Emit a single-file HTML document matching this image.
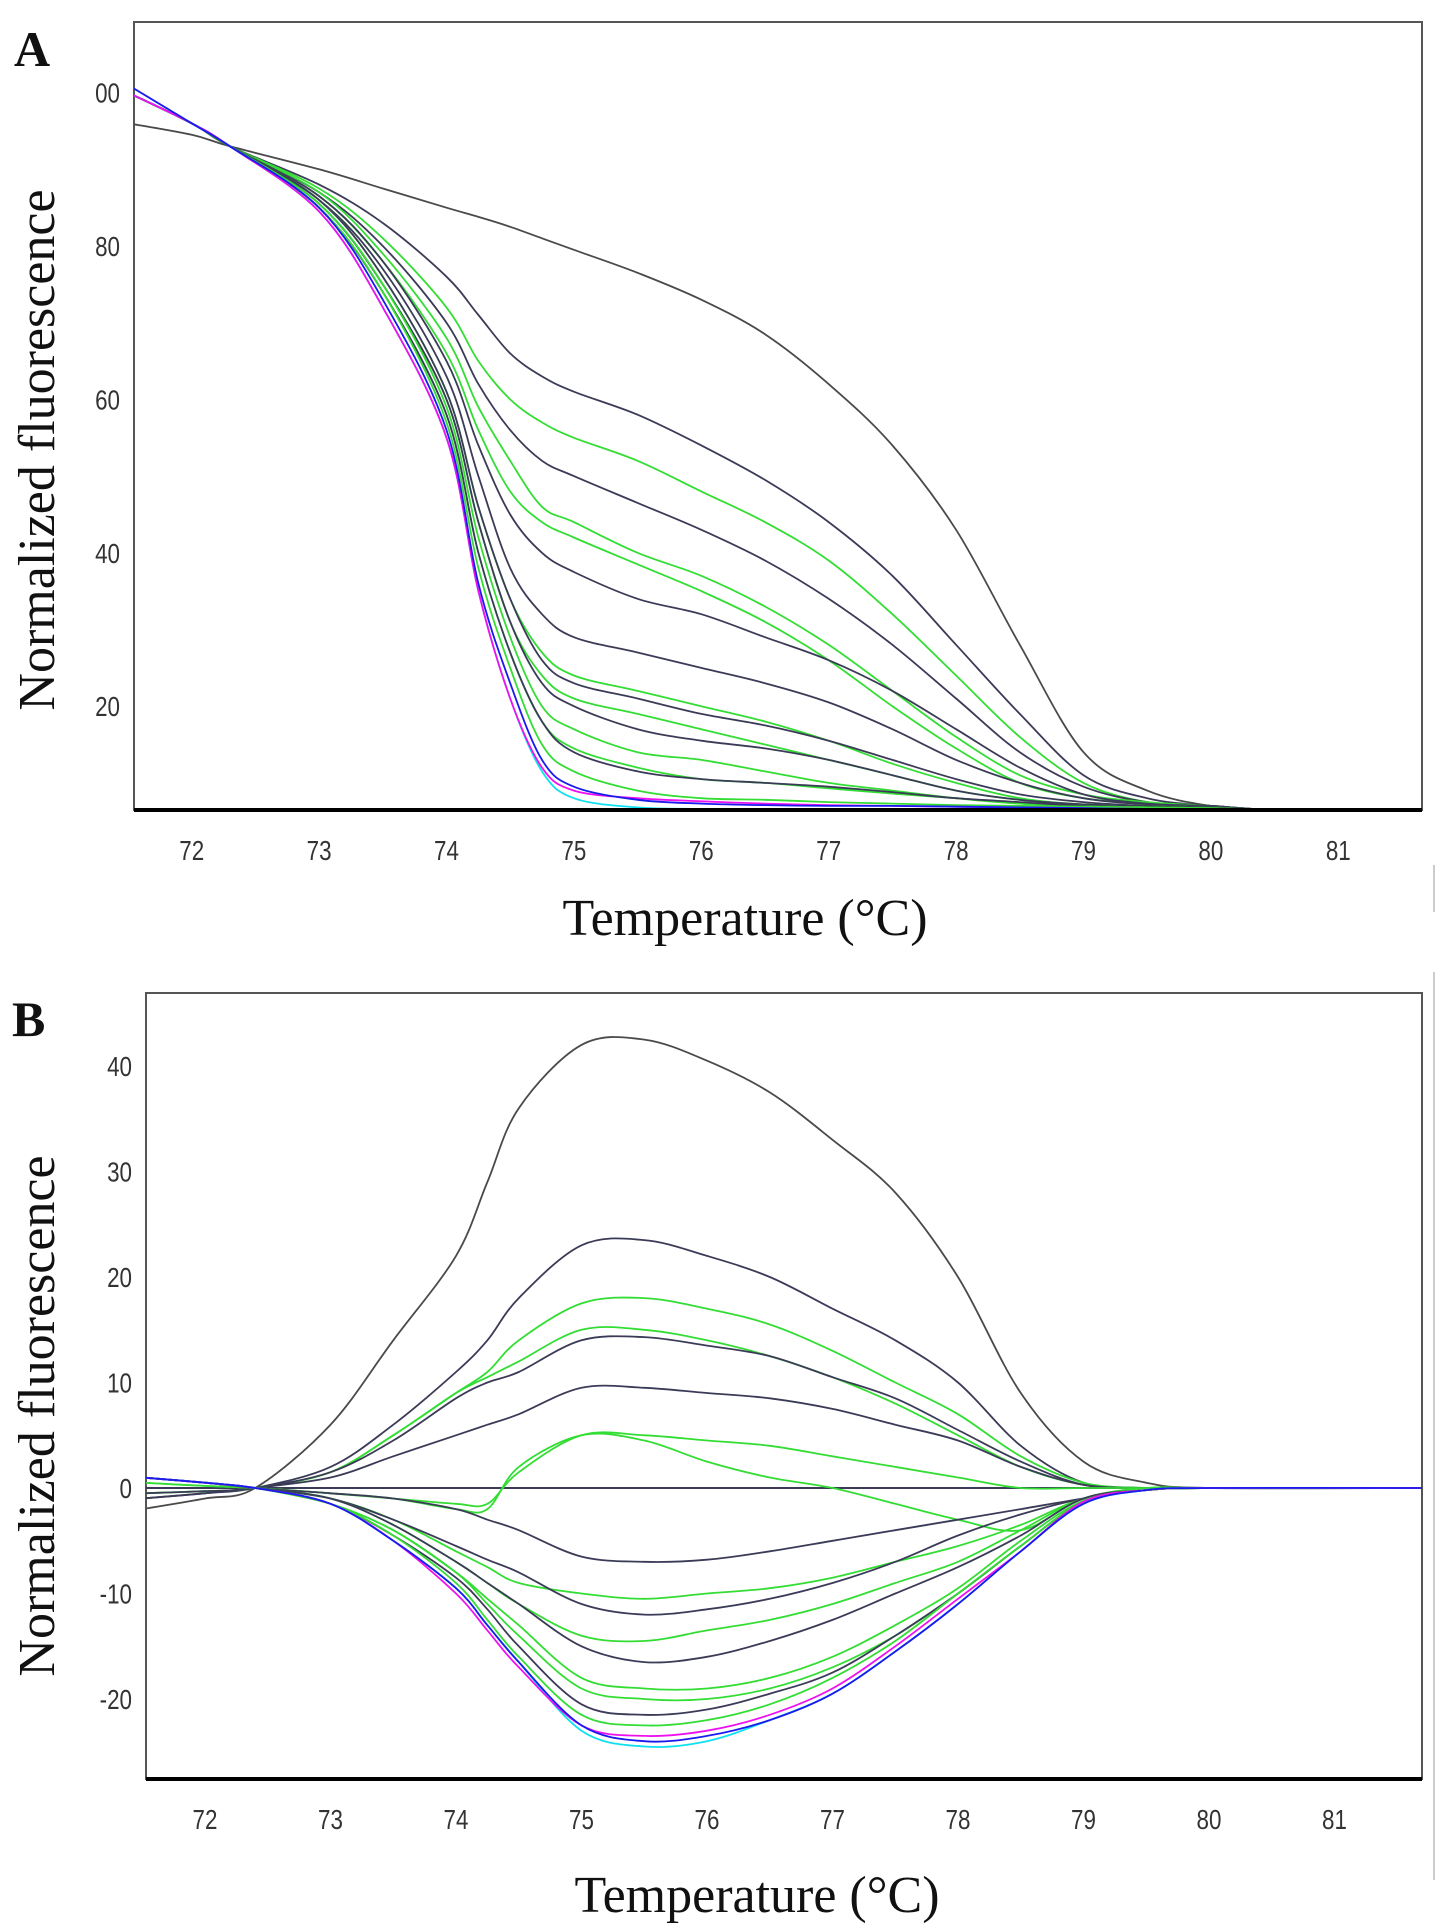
<!DOCTYPE html>
<html><head><meta charset="utf-8">
<style>
html,body{margin:0;padding:0;background:#fff;}
svg{display:block;}
.tick{font-family:"Liberation Sans",sans-serif;font-size:28px;fill:#333;}
.ttl{font-family:"Liberation Serif",serif;font-size:52px;fill:#111;}
.pl{font-family:"Liberation Serif",serif;font-size:50px;font-weight:bold;fill:#111;}
</style></head>
<body>
<svg id="chart" width="1441" height="1930" viewBox="0 0 1441 1930">
  <text class="pl" x="14" y="66">A</text>
  <text class="pl" x="12" y="1036">B</text>
  <g id="panelA"></g>
  <g id="panelB"></g>
  <line x1="1434" y1="865" x2="1434" y2="912" stroke="#bbb" stroke-width="1.5"/>
  <line x1="1434" y1="972" x2="1434" y2="1880" stroke="#bbb" stroke-width="1.5"/>
</svg>
<script>
// ---------- Panel A data ----------
const tempsA = [71.5,72,72.3,73,73.5,74,74.25,74.5,74.75,75,75.5,76,76.5,77,77.5,78,78.5,79,79.5,80,80.5,81.7];
const a_black1 = [96,94.5,93,90,87.5,85,83.8,82.5,81,79.5,76.5,73,68.5,62,54,43,28,14,9,7,6.5,6.3];
const a_dark2 = [100,96,93,88,83,76,71,66,63,61,58,54,49.5,44,37,28,19,11,8,7,6.5,6.3];
const a_g1 = [100,96,93,87.5,81,72,65,60,57,55,52,48,44,39,32,24,16,10,7.5,7,6.5,6.3];
const a_dark3 = [100,96,93,87,80,70,62,56,52,50,46.5,43,39,34,28,21,14,9.5,7.5,7,6.5,6.3];
const a_g2 = [100,96,93,87,79,68,59,52,46,44,40,37,33,28,22,16,11,8.5,7.5,7,6.5,6.3];
const a_g3 = [100,96,93,86.5,78,66,56,48,44,42,38.5,35,31,26,20,14.5,10,8,7.3,7,6.5,6.3];
const a_dark4 = [100,96,93,86.5,78,65,54,45,40,37.5,34,32,29,26,22,17,12,8.5,7.3,7,6.5,6.3];
const a_dark5 = [100,96,93,86,77,63,50,38,32,29,27,25,23,20.5,17,13,10,8,7.2,7,6.5,6.3];
const a_g4 = [100,96,93,86,76,61,46,34,27,24,22,20,18,15.5,12.5,10,8,7.2,7,6.8,6.5,6.3];
const a_dark6 = [100,96,93,86,76,61,46,34,26,23,21,19,17.5,15.5,13,10.5,8.5,7.5,7,6.8,6.5,6.3];
const a_g5 = [100,96,93,85.5,75,60,44,31,24,21,19,17,15,13,11,9,7.8,7.2,7,6.8,6.5,6.3];
const a_dark7 = [100,96,93,85.5,75,60,44,31,23,20,17,15.5,14.5,13,11,9,7.8,7.2,7,6.8,6.5,6.3];
const a_g6 = [100,96,93,85.5,75,59,42,29,20,17,14,13,11.5,10,9,8,7.3,7,6.8,6.7,6.5,6.3];
const a_g7 = [100,96,93,85,74,58,40,27,18,14.5,12,10.5,10,9.3,8.6,8,7.3,7,6.8,6.7,6.5,6.3];
const a_dark8 = [100,96,93,85,74,58,40,27,18,14,11.5,10.5,10,9.5,8.8,8,7.5,7,6.8,6.7,6.5,6.3];
const a_g8 = [100,96,93,85,74,57,38,25,15,11.5,9,8,7.8,7.5,7.3,7.1,7,6.9,6.8,6.7,6.5,6.3];
const a_blue = [101,96,93,85,73,56,36,23,13,9.5,7.8,7.3,7.1,7,7,6.9,6.8,6.7,6.6,6.5,6.4,6.3];
const a_mag = [100,96,93,84.5,72,55,35,21,12,9,8,7.6,7.3,7.1,7,6.9,6.8,6.7,6.6,6.5,6.4,6.3];
const a_cyan = [100,96,93,84.5,72,55,35,21,11.5,8,6.8,6.6,6.5,6.5,6.5,6.5,6.5,6.5,6.5,6.4,6.4,6.3];
const xTicksA = [72,73,74,75,76,77,78,79,80,81];
const yTicksA = [100,80,60,40,20];
const yTickLabelsA = ["00","80","60","40","20"];

// ---------- Panel B data ----------
const tempsB = [71.5,72,72.4,73,73.5,74,74.25,74.5,75,75.5,76,76.5,77,77.5,78,78.5,79,79.5,80,81.7];
const b_black = [-2,-1,0,6,14,22,29,36,42,42.5,40.5,37.5,33,28,20,9,2.5,0.5,0,0];
const b_d24 = [-1,-0.5,0,2,6,11,14,18,23,23.5,22,20,17,14,10,4,0.5,0,0,0];
const b_g18 = [-0.5,-0.3,0,1.5,5,9,11,14,17.5,18,17,15.5,13,10,7,3,0.5,0,0,0];
const b_g15 = [-0.5,-0.3,0,1.5,5,9,10.5,12,15,15,14,12.5,10.5,8,5,2,0.3,0,0,0];
const b_d14 = [-0.5,-0.3,0,1.5,4.5,8.5,10,11,14,14.3,13.5,12.5,10.5,8.5,5.5,2.5,0.3,0,0,0];
const b_d9 = [-1,-0.5,0,1,3,5,6,7,9.5,9.5,9,8.5,7.5,6,4.5,2,0.3,0,0,0];
const b_g5a = [0.5,0.2,0,-0.5,-1,-1.5,-1.5,1.5,5,5,4.5,4,3,2,1,0,0,0,0,0];
const b_g5b = [0.5,0.2,0,-0.5,-1,-2,-2,2,5,4.5,2.5,1,0,-1.5,-3,-4,-1,0,0,0];
const b_dm7 = [1,0.5,0,-0.5,-1,-2,-3,-4,-6.5,-7,-6.8,-6,-5,-4,-3,-2,-1,-0.2,0,0];
const b_gm10 = [1,0.5,0,-1,-3,-6,-7.5,-9,-10,-10.5,-10,-9.5,-8.5,-7,-5.5,-3.5,-1,-0.2,0,0];
const b_dm12 = [1,0.5,0,-1,-3,-5.5,-6.8,-8,-11,-12,-11.5,-10.5,-9,-7,-4.5,-2.5,-1,-0.2,0,0];
const b_gm14 = [1,0.5,0,-1,-3.5,-7,-9,-11,-14,-14.5,-13.5,-12.5,-11,-9,-7,-4,-1,-0.2,0,0];
const b_dm16 = [1,0.5,0,-1,-3.5,-7,-9,-11,-15,-16.5,-16,-14.5,-12.5,-10,-7.5,-4.5,-1,-0.2,0,0];
const b_gm19 = [1,0.5,0,-1.5,-4,-8,-10.5,-13,-18,-19,-19,-18,-16,-13,-9.5,-5,-1.2,-0.2,0,0];
const b_gm20 = [1,0.5,0,-1.5,-4,-8,-11,-14,-19,-20,-20,-19,-17,-14,-10,-5.5,-1.3,-0.2,0,0];
const b_dm21 = [1,0.5,0,-1.5,-4.5,-8.5,-11.5,-15,-20.5,-21.5,-21,-19.5,-17.5,-14,-10,-5.5,-1.3,-0.2,0,0];
const b_gm22 = [1,0.5,0,-1.5,-4.5,-9,-12.5,-16,-21.5,-22.5,-22,-20.5,-18,-14.5,-10,-5.5,-1.3,-0.2,0,0];
const b_mag = [1,0.5,0,-1.5,-5,-10,-13.5,-17,-22.5,-23.5,-23,-21.5,-19,-15,-10.5,-6,-1.3,-0.2,0,0];
const b_blue = [1,0.5,0,-1.5,-5,-9.5,-13,-16.5,-22.5,-24,-23.5,-22,-19.5,-15.5,-11,-6,-1.5,-0.2,0,0];
const b_cyan = [1,0.5,0,-1.5,-5,-9.5,-13,-16.5,-23,-24.5,-24,-22,-19.5,-15.5,-11,-6,-1.5,-0.2,0,0];
const xTicksB = [72,73,74,75,76,77,78,79,80,81];
const yTicksB = [40,30,20,10,0,-10,-20];

// ---------- styling ----------
const DARK = "#3b3b58", BLK = "#4a4a4a", GRN = "#33dd33", BLU = "#1a1aee", MAG = "#ee11ee", CYN = "#11e0f0";
const NS = "http://www.w3.org/2000/svg";

function mk(tag, attrs, parent) {
  const e = document.createElementNS(NS, tag);
  for (const k in attrs) e.setAttribute(k, attrs[k]);
  parent.appendChild(e);
  return e;
}
function smoothPath(pts) {
  let d = "M" + pts[0][0].toFixed(1) + "," + pts[0][1].toFixed(1);
  for (let i = 0; i < pts.length - 1; i++) {
    const p0 = pts[Math.max(0, i - 1)], p1 = pts[i], p2 = pts[i + 1], p3 = pts[Math.min(pts.length - 1, i + 2)];
    const c1x = p1[0] + (p2[0] - p0[0]) / 6, c1y = p1[1] + (p2[1] - p0[1]) / 6;
    const c2x = p2[0] - (p3[0] - p1[0]) / 6, c2y = p2[1] - (p3[1] - p1[1]) / 6;
    d += " C" + c1x.toFixed(1) + "," + c1y.toFixed(1) + " " + c2x.toFixed(1) + "," + c2y.toFixed(1) + " " + p2[0].toFixed(1) + "," + p2[1].toFixed(1);
  }
  return d;
}

function drawPanel(g, cfg) {
  const {L, R, T, B, xScale, yScale, temps, series, xTicks, yTicks, yLabels, id, baseline, titleY, titleX, titleCX, titleCY} = cfg;
  const clipId = "clip" + id;
  const defs = mk("defs", {}, g);
  const cp = mk("clipPath", {id: clipId}, defs);
  mk("rect", {x: L, y: T, width: R - L, height: B - T}, cp);

  const frame = mk("rect", {x: L, y: T, width: R - L, height: B - T, fill: "#fff", stroke: "#555", "stroke-width": 2}, g);
  
  

  const lines = mk("g", {"clip-path": "url(#" + clipId + ")"}, g);
  
  

  if (baseline) {
    const bl = mk("line", {x1: L, x2: R, y1: yScale(0), y2: yScale(0), stroke: DARK, "stroke-width": 2}, lines);
    
    
  }
  series.forEach((s, i) => {
    const pts = temps.map((t, j) => [xScale(t), yScale(s.v[j])]);
    const p = mk("path", {d: smoothPath(pts), fill: "none", stroke: s.c, "stroke-width": 1.8, "stroke-linejoin": "round"}, lines);
    
    
  });

  const ax = mk("line", {x1: L, x2: R, y1: B, y2: B, stroke: "#000", "stroke-width": 4}, g);
  
  

  xTicks.forEach(t => {
    const yy = B + 50;
    const tx = mk("text", {x: xScale(t), y: yy, "text-anchor": "middle", class: "tick", transform: "translate(" + xScale(t) + "," + yy + ") scale(0.8,1) translate(" + (-xScale(t)) + "," + (-yy) + ")"}, g);
    tx.textContent = t;
    
    
  });
  yTicks.forEach((t, i) => {
    const yy = yScale(t) + 10;
    const tx = mk("text", {x: L - 14, y: yy, "text-anchor": "end", class: "tick", transform: "translate(" + (L - 14) + "," + yy + ") scale(0.8,1) translate(" + (-(L - 14)) + "," + (-yy) + ")"}, g);
    tx.textContent = yLabels ? yLabels[i] : t;
    
    
  });
  const yt = mk("text", {class: "ttl", "text-anchor": "middle", transform: "translate(" + titleX + "," + titleCY + ") rotate(-90)"}, g);
  yt.textContent = "Normalized  fluorescence";
  
  
  const xt = mk("text", {class: "ttl", "text-anchor": "middle", x: titleCX, y: titleY}, g);
  xt.textContent = "Temperature (°C)";
  
  
}

// Panel A scales
const AL = 134, AR = 1422, AT = 22, AB = 810;
const xA = t => 191.7 + (t - 72) * 127.4;
const yA = v => 246 + (80 - v) * (153.4 / 20);
const seriesA = [
  {n:"a-black-1", v:a_black1, c:BLK},{n:"a-dark-2", v:a_dark2, c:DARK},{n:"a-green-1", v:a_g1, c:GRN},
  {n:"a-dark-3", v:a_dark3, c:DARK},{n:"a-green-2", v:a_g2, c:GRN},{n:"a-green-3", v:a_g3, c:GRN},
  {n:"a-dark-4", v:a_dark4, c:DARK},{n:"a-dark-5", v:a_dark5, c:DARK},{n:"a-green-4", v:a_g4, c:GRN},
  {n:"a-dark-6", v:a_dark6, c:DARK},{n:"a-green-5", v:a_g5, c:GRN},{n:"a-dark-7", v:a_dark7, c:DARK},
  {n:"a-green-6", v:a_g6, c:GRN},{n:"a-green-7", v:a_g7, c:GRN},{n:"a-dark-8", v:a_dark8, c:DARK},
  {n:"a-green-8", v:a_g8, c:GRN},{n:"a-cyan", v:a_cyan, c:CYN},{n:"a-magenta", v:a_mag, c:MAG},{n:"a-blue", v:a_blue, c:BLU}
];
drawPanel(document.getElementById("panelA"), {L:AL,R:AR,T:AT,B:AB,xScale:xA,yScale:yA,temps:tempsA,series:seriesA,
  xTicks:xTicksA,yTicks:yTicksA,yLabels:yTickLabelsA,id:"a",baseline:false,titleY:935,titleX:54,titleCX:745,titleCY:450});

// Panel B scales
const BL = 146, BR = 1422, BT = 993, BB = 1779;
const xB = t => 205 + (t - 72) * 125.5;
const yB = v => 1488 - v * 10.55;
const seriesB = [
  {n:"b-black", v:b_black, c:BLK},{n:"b-dark-24", v:b_d24, c:DARK},{n:"b-green-18", v:b_g18, c:GRN},
  {n:"b-green-15", v:b_g15, c:GRN},{n:"b-dark-14", v:b_d14, c:DARK},{n:"b-dark-9", v:b_d9, c:DARK},
  {n:"b-green-5a", v:b_g5a, c:GRN},{n:"b-green-5b", v:b_g5b, c:GRN},{n:"b-dark-m7", v:b_dm7, c:DARK},
  {n:"b-green-m10", v:b_gm10, c:GRN},{n:"b-dark-m12", v:b_dm12, c:DARK},{n:"b-green-m14", v:b_gm14, c:GRN},
  {n:"b-dark-m16", v:b_dm16, c:DARK},{n:"b-green-m19", v:b_gm19, c:GRN},{n:"b-green-m20", v:b_gm20, c:GRN},
  {n:"b-dark-m21", v:b_dm21, c:DARK},{n:"b-green-m22", v:b_gm22, c:GRN},{n:"b-cyan", v:b_cyan, c:CYN},
  {n:"b-magenta", v:b_mag, c:MAG},{n:"b-blue", v:b_blue, c:BLU}
];
drawPanel(document.getElementById("panelB"), {L:BL,R:BR,T:BT,B:BB,xScale:xB,yScale:yB,temps:tempsB,series:seriesB,
  xTicks:xTicksB,yTicks:yTicksB,yLabels:null,id:"b",baseline:true,titleY:1912,titleX:54,titleCX:757,titleCY:1416});
</script>
</body></html>
